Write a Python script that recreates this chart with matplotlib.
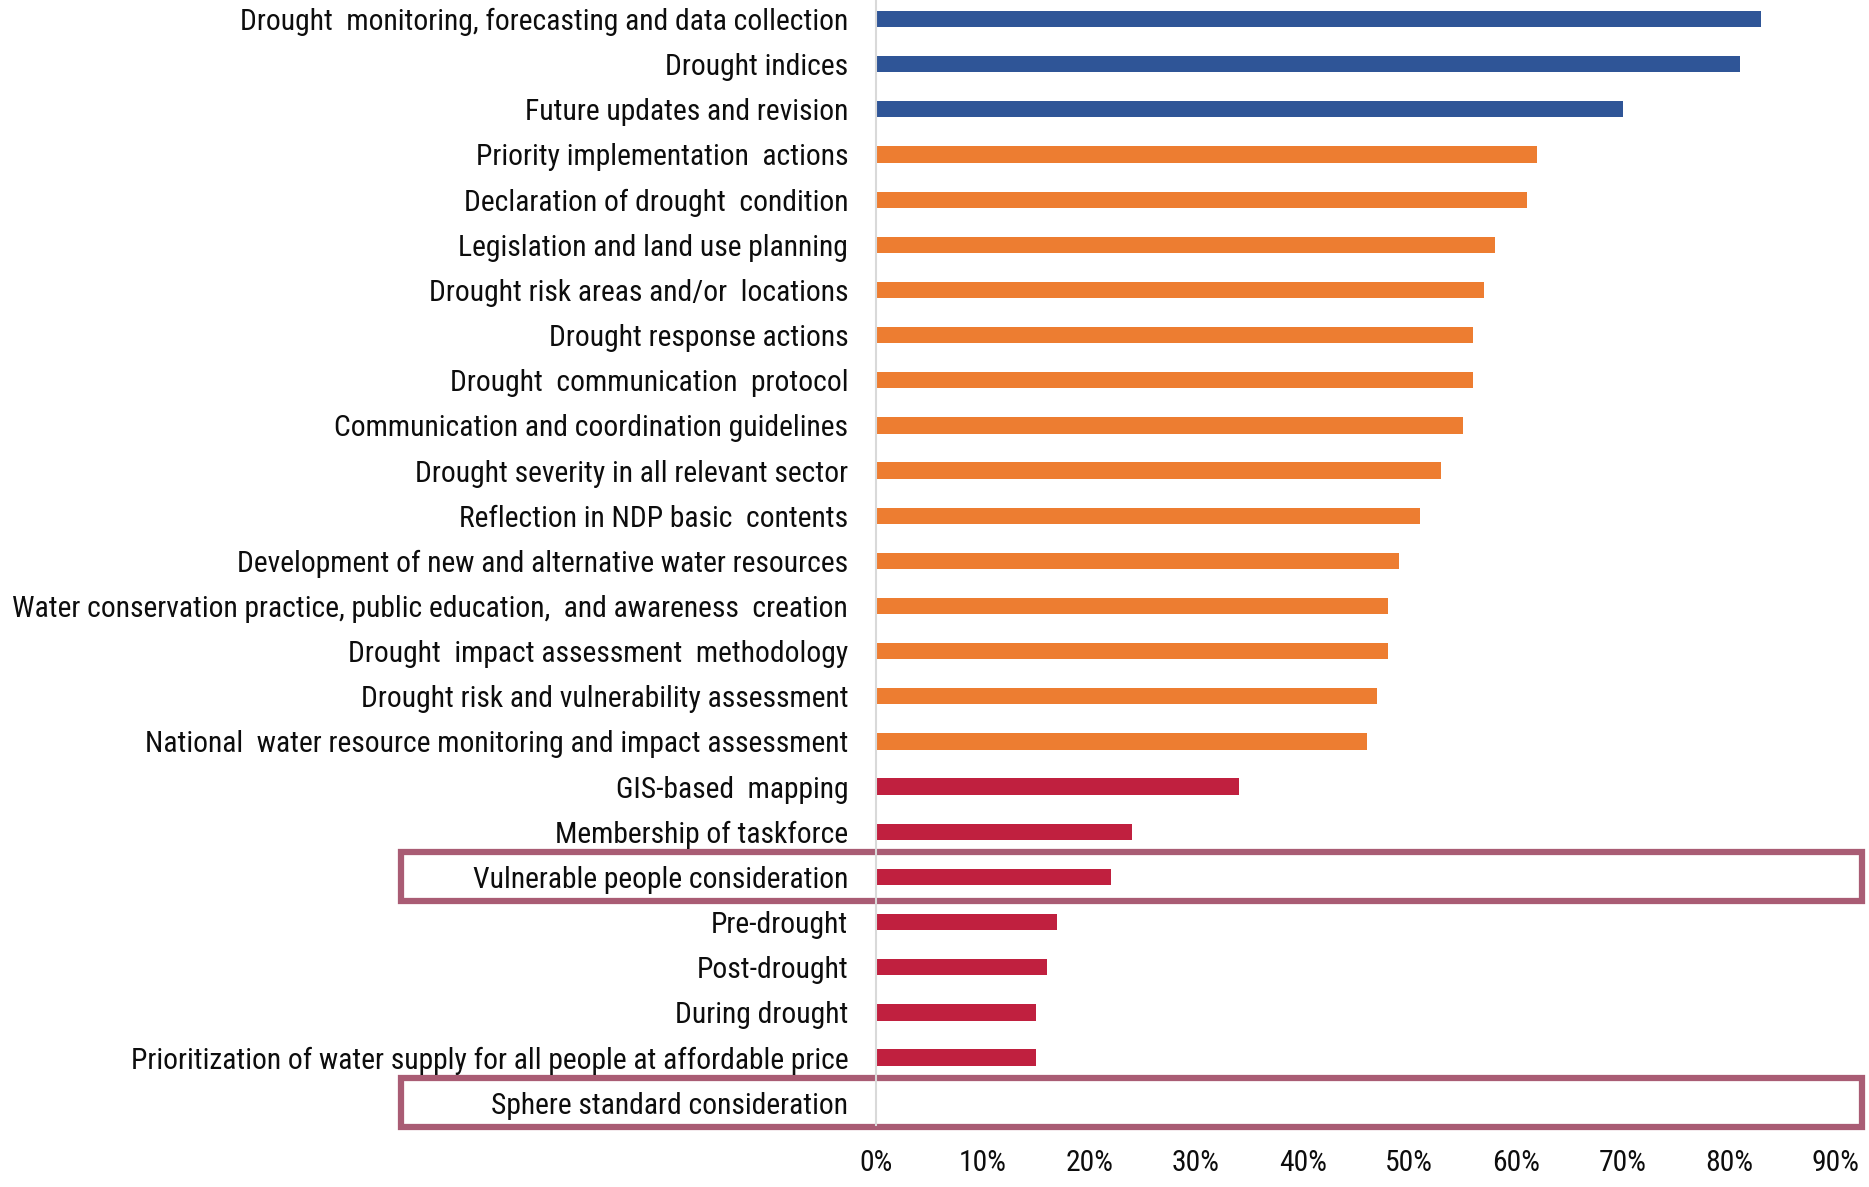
import matplotlib.pyplot as plt
import matplotlib.transforms as mtransforms
from matplotlib import font_manager as fm
from matplotlib.patches import Rectangle

# narrow font like the original; fall back to condensed DejaVu
available = {f.name for f in fm.fontManager.ttflist}
if 'Roboto Condensed' in available:
    plt.rcParams['font.family'] = ['Roboto Condensed', 'DejaVu Sans']
else:
    plt.rcParams['font.family'] = ['DejaVu Sans']
    plt.rcParams['font.stretch'] = 'condensed'

labels = [
    'Drought  monitoring, forecasting and data collection',
    'Drought indices',
    'Future updates and revision',
    'Priority implementation  actions',
    'Declaration of drought  condition',
    'Legislation and land use planning',
    'Drought risk areas and/or  locations',
    'Drought response actions',
    'Drought  communication  protocol',
    'Communication and coordination guidelines',
    'Drought severity in all relevant sector',
    'Reflection in NDP basic  contents',
    'Development of new and alternative water resources',
    'Water conservation practice, public education,  and awareness  creation',
    'Drought  impact assessment  methodology',
    'Drought risk and vulnerability assessment',
    'National  water resource monitoring and impact assessment',
    'GIS-based  mapping',
    'Membership of taskforce',
    'Vulnerable people consideration',
    'Pre-drought',
    'Post-drought',
    'During drought',
    'Prioritization of water supply for all people at affordable price',
    'Sphere standard consideration',
]
values = [83, 81, 70, 62, 61, 58, 57, 56, 56, 55, 53, 51, 49, 48, 48, 47, 46,
          34, 24, 22, 17, 16, 15, 15, 0]
groups = ['high'] * 3 + ['mid'] * 14 + ['low'] * 8
highlighted = ['Vulnerable people consideration', 'Sphere standard consideration']

group_colors = {'high': '#2F5597', 'mid': '#ED7D31', 'low': '#C0203F'}
xticks = [0, 10, 20, 30, 40, 50, 60, 70, 80, 90]

fig = plt.figure(figsize=(18.69, 11.87), dpi=100)
ax = fig.add_axes([0.4687, 0.0520, 0.5136, 0.9510])

ypos = list(range(len(labels)))
ax.barh(ypos, values, height=0.36, color=[group_colors[g] for g in groups])

ax.set_ylim(len(labels) - 0.5, -0.5)
ax.set_xlim(0, 90)
ax.set_yticks(ypos)
ax.set_yticklabels(labels, fontsize=21.3, color='#0D0D0D')
ax.set_xticks(xticks)
ax.set_xticklabels([f'{t}%' for t in xticks], fontsize=21.3, color='#0D0D0D')
ax.tick_params(axis='y', length=0, pad=20)
ax.tick_params(axis='x', length=0, pad=17)

for side in ['top', 'right', 'bottom']:
    ax.spines[side].set_visible(False)
ax.spines['left'].set_color('#D9D9D9')
ax.spines['left'].set_linewidth(1.5)

# boxes around highlighted rows
trans = mtransforms.blended_transform_factory(fig.transFigure, ax.transData)
for name in highlighted:
    i = labels.index(name)
    box = Rectangle((0.2145, i - 0.55), 0.7815, 1.08, transform=trans,
                    fill=False, edgecolor='#A95C74', linewidth=4.5, clip_on=False)
    ax.add_patch(box)

fig.savefig('out.png', dpi=100)
